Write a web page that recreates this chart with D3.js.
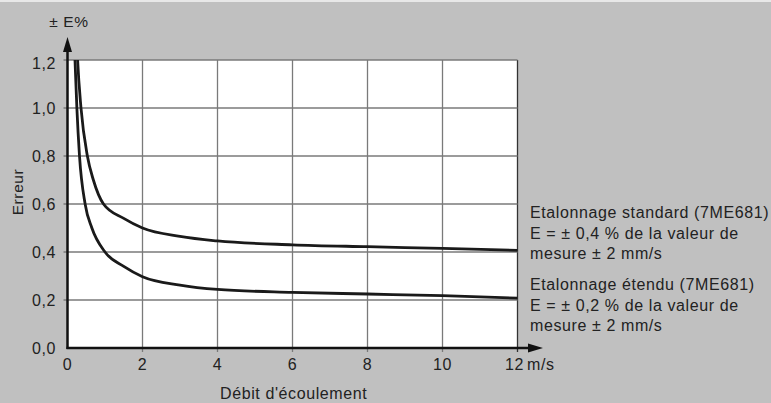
<!DOCTYPE html>
<html>
<head>
<meta charset="utf-8">
<script src="https://cdn.jsdelivr.net/npm/d3@7"></script>
<style>
  body { margin: 0; background: #c0c0c0; }
  svg { display: block; font-family: "Liberation Sans", Arial, Helvetica, sans-serif; }
</style>
</head>
<body>
<svg width="771" height="403"></svg>
<script>
var svg = d3.select("svg"),
    width = +svg.attr("width"),
    height = +svg.attr("height");

// values
var xTicks = [0, 2, 4, 6, 8, 10, 12];
var yTicks = [0, 0.2, 0.4, 0.6, 0.8, 1.0, 1.2];

var standardV = [0.25, 0.27, 0.36, 0.53, 0.69, 0.96, 1.5, 2, 3, 4, 6, 8, 10, 12];
var standardE = [1.27, 1.2, 1.0, 0.8, 0.7, 0.6, 0.54, 0.50, 0.465, 0.446, 0.43, 0.422, 0.415, 0.407];

var etenduV = [0.18, 0.2, 0.25, 0.32, 0.47, 0.65, 1.0, 1.5, 2, 3, 4, 6, 8, 10, 12];
var etenduE = [1.28, 1.2, 1.0, 0.8, 0.6, 0.5, 0.4, 0.34, 0.297, 0.262, 0.244, 0.232, 0.225, 0.218, 0.208];

var legendStandard = ["Etalonnage standard (7ME681)", "E = ± 0,4 % de la valeur de", "mesure ± 2 mm/s"];
var legendEtendu = ["Etalonnage étendu (7ME681)", "E = ± 0,2 % de la valeur de", "mesure ± 2 mm/s"];

var x = d3.scaleLinear().domain([0, 12]).range([67.5, 517.5]);
var y = d3.scaleLinear().domain([0, 1.2]).range([348, 60]);

var fmt = function(d) { return d3.format(".1f")(d).replace(".", ","); };

// background
svg.append("rect").attr("width", width).attr("height", height).attr("fill", "#c0c0c0");
svg.append("rect").attr("width", width).attr("height", 2).attr("fill", "#e8e8e8");

// plot area
svg.append("rect")
    .attr("x", x(0)).attr("y", y(1.2))
    .attr("width", x(12) - x(0)).attr("height", y(0) - y(1.2))
    .attr("fill", "#fff");

svg.append("defs").append("clipPath").attr("id", "plot")
  .append("rect")
    .attr("x", x(0)).attr("y", y(1.2))
    .attr("width", x(12) - x(0)).attr("height", y(0) - y(1.2));

// grid
var grid = svg.append("g").attr("stroke", "#7a7a7a").attr("stroke-width", 1.3);
grid.selectAll(".gx")
    .data(xTicks.slice(1))
    .enter().append("line")
    .attr("x1", function(d) { return x(d); })
    .attr("x2", function(d) { return x(d); })
    .attr("y1", y(1.2)).attr("y2", y(0) + 4)
    .attr("stroke", function(d) { return d === 12 ? "#333" : null; });
grid.selectAll(".gy")
    .data(yTicks.slice(1))
    .enter().append("line")
    .attr("x1", x(0) - 4).attr("x2", x(12))
    .attr("y1", function(d) { return y(d); })
    .attr("y2", function(d) { return y(d); });

// curves
var line = d3.line()
    .x(function(d) { return x(d[0]); })
    .y(function(d) { return y(d[1]); })
    .curve(d3.curveMonotoneX);

var curves = svg.append("g").attr("clip-path", "url(#plot)");
[[standardV, standardE], [etenduV, etenduE]].forEach(function(s) {
    curves.append("path")
        .datum(d3.zip(s[0], s[1]))
        .attr("d", line)
        .attr("fill", "none")
        .attr("stroke", "#1a1a1a")
        .attr("stroke-width", 2.8);
});

// axes with arrows
svg.append("line")
    .attr("x1", x(0)).attr("x2", x(0))
    .attr("y1", y(0) + 1).attr("y2", 50)
    .attr("stroke", "#111").attr("stroke-width", 2.5);
svg.append("path")
    .attr("d", "M" + (x(0) - 4.5) + ",52L" + x(0) + ",37L" + (x(0) + 4.5) + ",52Z")
    .attr("fill", "#111");
svg.append("line")
    .attr("x1", x(0) - 1).attr("x2", 530)
    .attr("y1", y(0)).attr("y2", y(0))
    .attr("stroke", "#111").attr("stroke-width", 2.5);
svg.append("path")
    .attr("d", "M528," + (y(0) - 4.5) + "L543," + y(0) + "L528," + (y(0) + 4.5) + "Z")
    .attr("fill", "#111");

// text helper
function label(sel, size) {
    return sel.attr("font-size", size)
        .attr("letter-spacing", 0.6)
        .attr("fill", "#222");
}

// tick labels (top one sits a little lower, as in the original)
label(svg.append("g").selectAll("text")
    .data(yTicks)
    .enter().append("text")
    .attr("x", 56).attr("y", function(d) { return y(d) + (d === 1.2 ? 3 : 0); })
    .attr("dy", "0.36em")
    .attr("text-anchor", "end"), 16)
    .text(fmt);

label(svg.append("g").selectAll("text")
    .data(xTicks)
    .enter().append("text")
    .attr("x", function(d) { return d === 12 ? x(d) - 3 : x(d); }).attr("y", 370)
    .attr("text-anchor", "middle"), 16)
    .text(function(d) { return d; });

label(svg.append("text").attr("x", 527).attr("y", 370), 16).text("m/s");

label(svg.append("text").attr("x", 69).attr("y", 27)
    .attr("text-anchor", "middle"), 15.5).text("± E%");

label(svg.append("text")
    .attr("transform", "translate(23,192) rotate(-90)")
    .attr("text-anchor", "middle"), 15.5).text("Erreur");

label(svg.append("text").attr("x", 220).attr("y", 399), 16).text("Débit d'écoulement");

// legend text
function legend(lines, y0) {
    label(svg.append("g").selectAll("text")
        .data(lines)
        .enter().append("text")
        .attr("x", 530)
        .attr("y", function(d, i) { return y0 + i * 20.5; }), 16)
        .text(function(d) { return d; });
}
legend(legendStandard, 218);
legend(legendEtendu, 290);
</script>
</body>
</html>
